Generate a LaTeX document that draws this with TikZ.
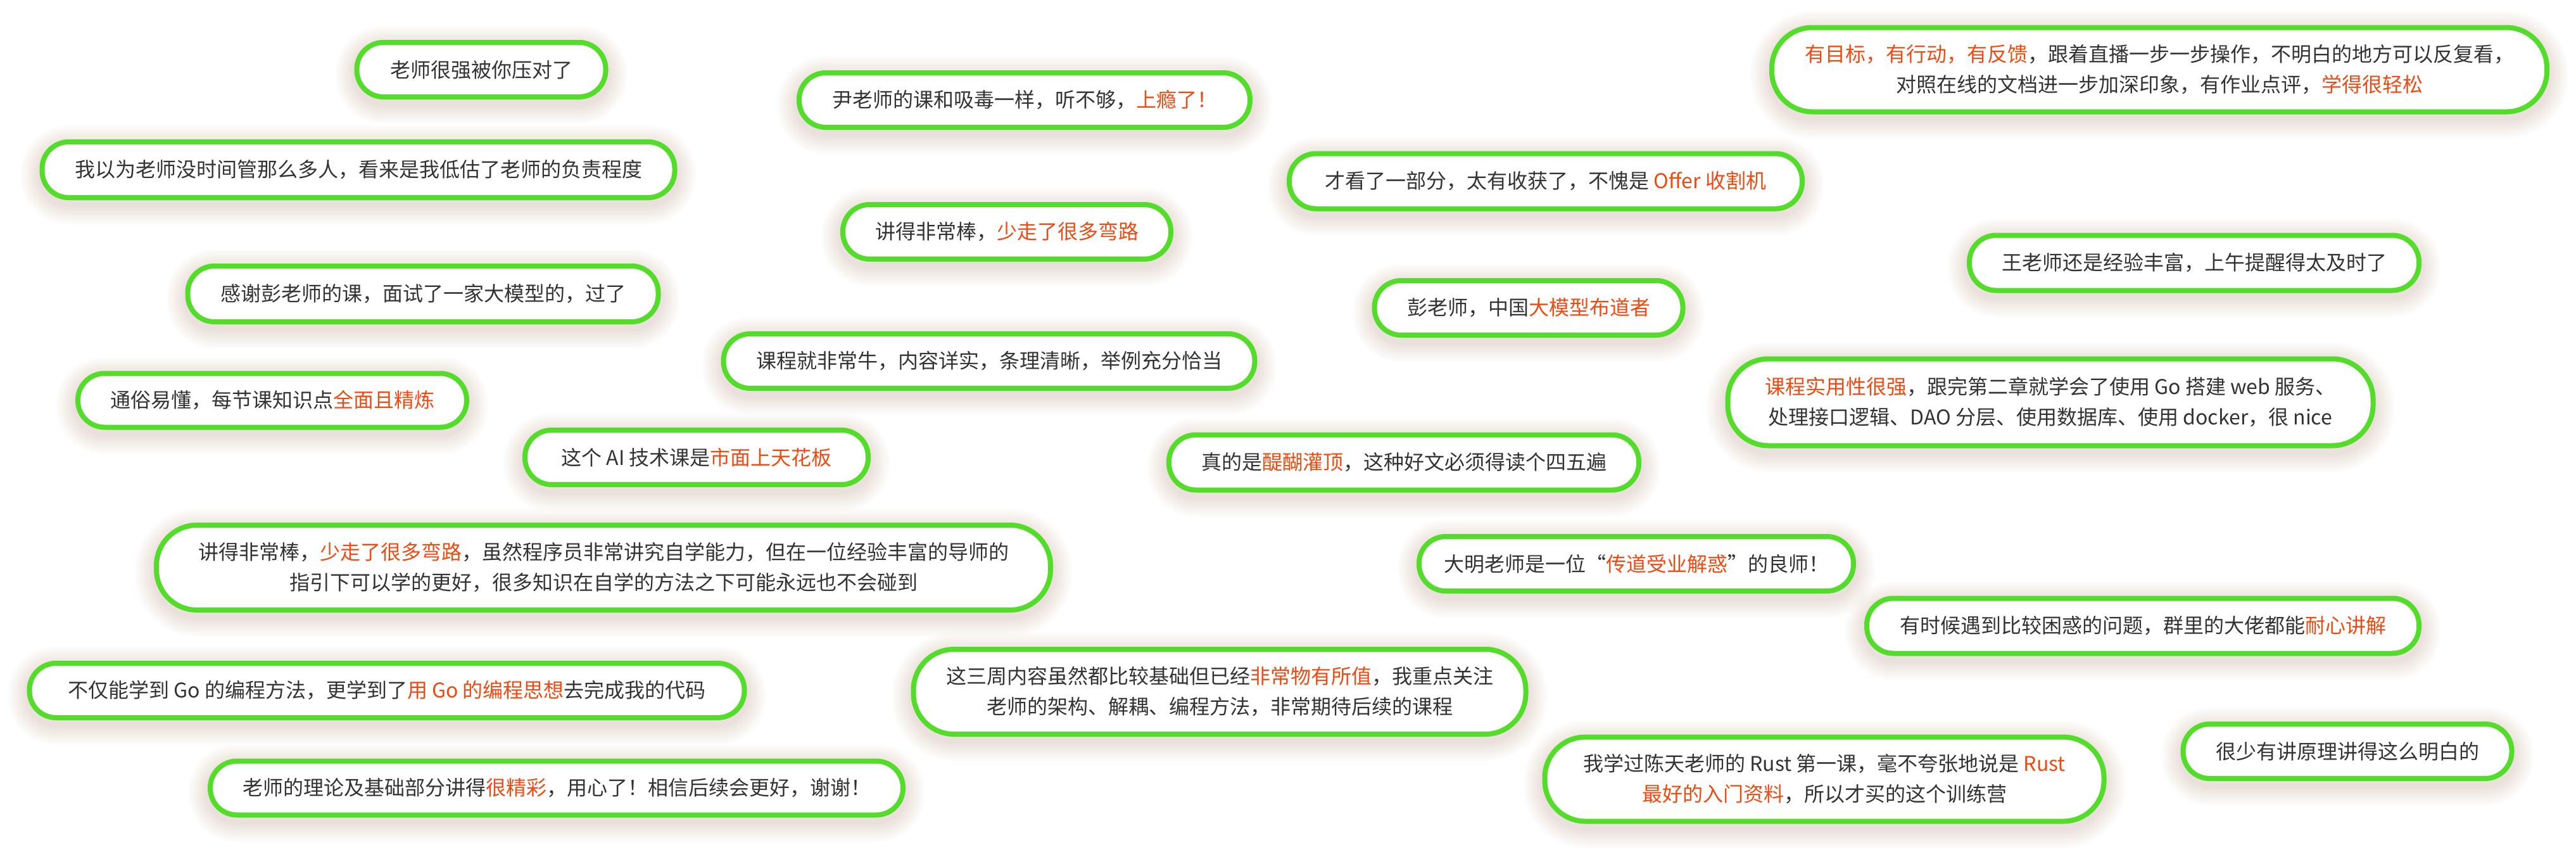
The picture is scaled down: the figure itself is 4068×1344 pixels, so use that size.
\documentclass[tikz,border=0pt]{standalone}
\usepackage{fontspec}
\setmainfont{Noto Sans CJK SC}
\definecolor{boxgreen}{HTML}{54DC2A}
\definecolor{txtgray}{HTML}{333333}
\definecolor{hlorange}{HTML}{EE4B12}
\definecolor{shadowtone}{HTML}{B08C6C}
\newcommand\hl[1]{\textcolor{hlorange}{#1}}
\tikzset{
  revbase/.style={draw=boxgreen, line width=4pt, fill=white, align=center, text=txtgray,
    inner sep=0pt, font=\fontsize{16pt}{24pt}\selectfont},
  revbox/.style={revbase, rounded corners=21pt},
  revtwo/.style={revbase, rounded corners=32pt},
  shadowlayer/.style={fill=shadowtone, opacity=0.022}
}
\newcommand\shad[4]{%
  \foreach \s in {3,6,...,30}{%
    \pgfmathsetlengthmacro\rr{(#4/2+\s)*0.5pt*0.97}%
    \fill[shadowlayer, rounded corners=\rr] ({#1-#3/2-\s},{#2-#4/2-\s+8}) rectangle ({#1+#3/2+\s},{#2+#4/2+\s+8});
  }}
\newcommand\rv[6]{\shad{#2}{#3}{#4}{#5}\node[revbox, minimum width={#4*0.5pt-4pt}, minimum height={#5*0.5pt-4pt}] (#1) at (#2,#3) {#6};}
\newcommand\rvt[6]{\shad{#2}{#3}{#4}{#5}\node[revtwo, minimum width={#4*0.5pt-4pt}, minimum height={#5*0.5pt-4pt}] (#1) at (#2,#3) {#6};}
\begin{document}
\begin{tikzpicture}[x=0.5pt,y=-0.5pt]
\useasboundingbox[fill=white] (0,0) rectangle (4068,1344);
% left column
\rv{a1}{760}{110}{401}{94}{老师很强被你压对了}
\rv{a2}{566}{268}{1007}{96}{我以为老师没时间管那么多人，看来是我低估了老师的负责程度}
\rv{a3}{668}{464}{751}{96}{感谢彭老师的课，面试了一家大模型的，过了}
\rv{a4}{430}{632}{622}{93}{通俗易懂，每节课知识点\hl{全面且精炼}}
\rv{a5}{1100}{722}{550}{94}{这个 AI 技术课是\hl{市面上天花板}}
\rvt{a6}{953}{896}{1420}{142}{讲得非常棒，\hl{少走了很多弯路}，虽然程序员非常讲究自学能力，但在一位经验丰富的导师的\\指引下可以学的更好，很多知识在自学的方法之下可能永远也不会碰到}
\rv{a7}{611}{1090}{1137}{94}{不仅能学到 Go 的编程方法，更学到了\hl{用 Go 的编程思想}去完成我的代码}
\rv{a8}{879}{1244}{1102}{93}{老师的理论及基础部分讲得\hl{很精彩}，用心了！相信后续会更好，谢谢！}
% middle column
\rv{b1}{1618}{158}{720}{94}{尹老师的课和吸毒一样，听不够，\hl{上瘾了！}}
\rv{b2}{1590}{366}{526}{94}{讲得非常棒，\hl{少走了很多弯路}}
\rv{b3}{1562}{570}{847}{94}{课程就非常牛，内容详实，条理清晰，举例充分恰当}
\rv{b4}{2441}{286}{818}{95}{才看了一部分，太有收获了，不愧是 \hl{Offer 收割机}}
\rv{b5}{2414}{486}{495}{94}{彭老师，中国\hl{大模型布道者}}
\rv{b6}{2217}{730}{750}{95}{真的是\hl{醍醐灌顶}，这种好文必须得读个四五遍}
\rv{b7}{2584}{890}{694}{94}{大明老师是一位“\hl{传道受业解惑}”的良师！}
\rvt{b8}{1926}{1092}{975}{142}{这三周内容虽然都比较基础但已经\hl{非常物有所值}，我重点关注\\老师的架构、解耦、编程方法，非常期待后续的课程}
\rvt{b9}{2881}{1230}{891}{141}{我学过陈天老师的 Rust 第一课，毫不夸张地说是 \hl{Rust}\\\hl{最好的入门资料}，所以才买的这个训练营}
% right column
\rvt{c1}{3410}{110}{1232}{141}{\hl{有目标，有行动，有反馈}，跟着直播一步一步操作，不明白的地方可以反复看，\\对照在线的文档进一步加深印象，有作业点评，\hl{学得很轻松}}
\rv{c2}{3465}{415}{718}{95}{王老师还是经验丰富，上午提醒得太及时了}
\rvt{c3}{3238}{635}{1027}{145}{\hl{课程实用性很强}，跟完第二章就学会了使用 Go 搭建 web 服务、\\处理接口逻辑、DAO 分层、使用数据库、使用 docker，很 nice}
\rv{c4}{3384}{988}{880}{95}{有时候遇到比较困惑的问题，群里的大佬都能\hl{耐心讲解}}
\rv{c5}{3707}{1186}{527}{94}{很少有讲原理讲得这么明白的}
\end{tikzpicture}
\end{document}
